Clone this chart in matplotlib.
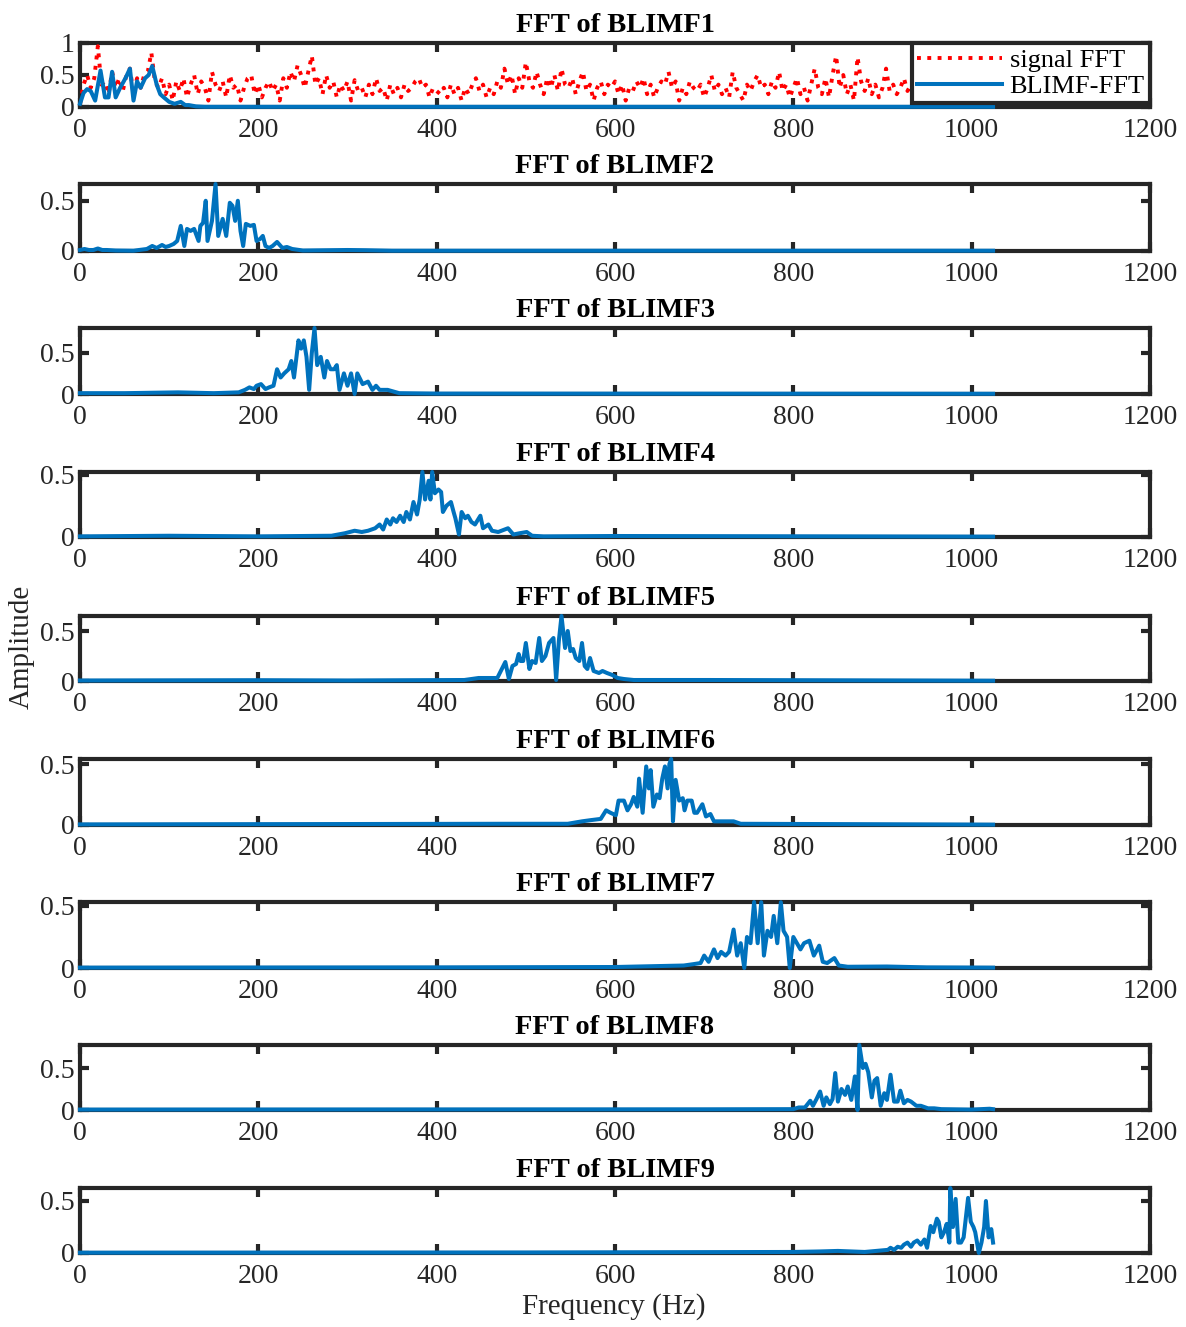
import numpy as np
import matplotlib
matplotlib.use("Agg")
import matplotlib.pyplot as plt
from matplotlib.ticker import FuncFormatter

plt.rcParams['font.family'] = ['Liberation Serif', 'DejaVu Serif']

# ---------------- data ----------------
# original signal spectrum (4 Hz spacing, starts at 0 Hz)
signal_fft = [
    0.05, 0.35, 0.5, 0.3, 0.45, 0.95, 0.35, 0.4, 0.2, 0.55, 0.3, 0.45, 0.25, 0.5, 0.6, 0.2, 0.45, 0.3, 0.5, 0.55,
    0.85, 0.4, 0.3, 0.45, 0.2, 0.35, 0.1, 0.4, 0.25, 0.45, 0.15, 0.35, 0.5, 0.2, 0.4, 0.3, 0.1, 0.55, 0.35, 0.25,
    0.4, 0.15, 0.5, 0.3, 0.35, 0.1, 0.3, 0.45, 0.5, 0.2, 0.35, 0.15, 0.3, 0.4, 0.25, 0.35, 0.1, 0.45, 0.3, 0.55,
    0.4, 0.65, 0.5, 0.3, 0.55, 0.8, 0.35, 0.45, 0.2, 0.5, 0.3, 0.4, 0.15, 0.35, 0.25, 0.4, 0.1, 0.42, 0.25, 0.3,
    0.15, 0.35, 0.2, 0.45, 0.25, 0.3, 0.1, 0.35, 0.2, 0.3, 0.15, 0.35, 0.25, 0.3, 0.4, 0.45, 0.3, 0.35, 0.15, 0.3,
    0.25, 0.2, 0.3, 0.15, 0.35, 0.2, 0.3, 0.1, 0.3, 0.2, 0.35, 0.45, 0.25, 0.35, 0.15, 0.3, 0.2, 0.4, 0.3, 0.6,
    0.35, 0.5, 0.2, 0.45, 0.3, 0.7, 0.4, 0.3, 0.55, 0.35, 0.2, 0.45, 0.3, 0.5, 0.25, 0.6, 0.35, 0.3, 0.45, 0.2,
    0.4, 0.55, 0.25, 0.35, 0.1, 0.3, 0.4, 0.2, 0.35, 0.3, 0.4, 0.2, 0.35, 0.1, 0.3, 0.25, 0.4, 0.3, 0.45, 0.2,
    0.35, 0.15, 0.3, 0.4, 0.35, 0.55, 0.3, 0.4, 0.1, 0.3, 0.2, 0.4, 0.3, 0.25, 0.35, 0.15, 0.3, 0.5, 0.25, 0.35,
    0.2, 0.3, 0.15, 0.55, 0.3, 0.2, 0.1, 0.35, 0.25, 0.4, 0.5, 0.3, 0.35, 0.2, 0.4, 0.3, 0.55, 0.25, 0.35, 0.15,
    0.3, 0.45, 0.2, 0.3, 0.1, 0.35, 0.6, 0.3, 0.2, 0.45, 0.15, 0.5, 0.8, 0.3, 0.5, 0.2, 0.35, 0.1, 0.78, 0.4,
    0.25, 0.45, 0.2, 0.35, 0.15, 0.3, 0.6, 0.25, 0.35, 0.2, 0.3, 0.45, 0.25, 0.35, 0.4, 0.2,
    0.3, 0.25, 0.35, 0.2, 0.3, 0.4, 0.25, 0.3, 0.2, 0.35, 0.25, 0.3, 0.15, 0.35, 0.3, 0.2, 0.3, 0.25, 0.35, 0.2, 0.1,
]
signal_df = 4  # Hz between signal samples

imf1_f = [0, 4, 8, 12, 17, 23, 28, 32, 36, 40, 45, 51, 56, 60, 64, 68, 73, 77, 81, 86, 90, 94, 100, 106, 113, 118, 122, 130, 140, 1024]
imf1_a = [0.05, 0.22, 0.28, 0.25, 0.1, 0.57, 0.15, 0.15, 0.55, 0.15, 0.3, 0.45, 0.6, 0.1, 0.4, 0.3, 0.45, 0.5, 0.64, 0.35, 0.2, 0.15, 0.08, 0.05, 0.08, 0.03, 0.03, 0.01, 0.003, 0.003]

imf2_f = [0, 5, 10, 15, 20, 25, 30, 40, 60, 75, 81, 86, 92, 96, 100, 105, 109, 113, 117, 120,
          124, 128, 133, 135, 138, 141, 143, 148, 152, 155, 160, 164, 168, 171, 174, 177, 180, 183, 186, 191,
          195, 198, 202, 205, 208, 212, 216, 221, 227, 232, 238, 250, 300, 320, 350, 1024]
imf2_a = [0.01, 0.02, 0.01, 0.01, 0.025, 0.01, 0.01, 0.005, 0.003, 0.02, 0.05, 0.03, 0.06, 0.04, 0.05, 0.07, 0.1, 0.25, 0.05, 0.22,
          0.2, 0.22, 0.1, 0.25, 0.28, 0.5, 0.1, 0.3, 0.667, 0.15, 0.32, 0.15, 0.48, 0.45, 0.3, 0.5, 0.2, 0.05, 0.27, 0.25,
          0.26, 0.1, 0.12, 0.15, 0.05, 0.03, 0.05, 0.09, 0.03, 0.04, 0.02, 0.005, 0.01, 0.008, 0.003, 0.003]

imf3_f = [0, 50, 110, 150, 178, 185, 190, 195, 198, 203, 208, 212, 217, 221, 225, 229, 234, 237, 240, 245,
          248, 251, 254, 257, 260, 263, 266, 270, 274, 277, 281, 285, 288, 291, 296, 300, 304, 308, 311, 317,
          323, 328, 332, 336, 345, 358, 400, 1024]
imf3_a = [0.01, 0.01, 0.02, 0.01, 0.02, 0.05, 0.08, 0.06, 0.1, 0.12, 0.06, 0.08, 0.1, 0.3, 0.2, 0.25, 0.3, 0.4, 0.2, 0.65,
          0.55, 0.65, 0.45, 0.05, 0.5, 0.8, 0.35, 0.45, 0.2, 0.4, 0.3, 0.3, 0.35, 0.05, 0.25, 0.1, 0.25, 0.0, 0.25, 0.12,
          0.15, 0.05, 0.1, 0.05, 0.05, 0.01, 0.005, 0.003]

imf4_f = [0, 100, 200, 282, 297, 308, 316, 323, 331, 336, 340, 344, 348, 351, 355, 359, 363, 366, 370, 374,
          378, 381, 384, 387, 391, 393, 395, 398, 402, 405, 407, 411, 416, 419, 421, 425, 428, 432, 435, 439,
          443, 449, 452, 458, 462, 469, 480, 486, 493, 501, 507, 520, 600, 1024]
imf4_a = [0.005, 0.01, 0.005, 0.01, 0.03, 0.05, 0.04, 0.05, 0.07, 0.1, 0.06, 0.14, 0.1, 0.15, 0.12, 0.17, 0.12, 0.2, 0.14, 0.28,
          0.18, 0.3, 0.52, 0.3, 0.45, 0.3, 0.52, 0.35, 0.38, 0.36, 0.2, 0.25, 0.28, 0.2, 0.15, 0.02, 0.2, 0.15, 0.17, 0.12,
          0.1, 0.17, 0.07, 0.1, 0.05, 0.04, 0.07, 0.02, 0.03, 0.04, 0.01, 0.005, 0.008, 0.003]

imf5_f = [0, 200, 300, 431, 447, 457, 468, 477, 481, 485, 489, 492, 494, 497, 500, 504, 507, 511, 515, 518,
          522, 526, 531, 534, 537, 540, 544, 547, 550, 553, 556, 560, 563, 566, 569, 572, 576, 582, 586, 591,
          597, 603, 610, 621, 705, 1024]
imf5_a = [0.005, 0.008, 0.005, 0.01, 0.03, 0.03, 0.03, 0.19, 0.02, 0.15, 0.17, 0.27, 0.2, 0.2, 0.38, 0.12, 0.2, 0.18, 0.43, 0.2,
          0.25, 0.38, 0.43, 0.01, 0.4, 0.65, 0.33, 0.5, 0.3, 0.32, 0.23, 0.2, 0.38, 0.15, 0.12, 0.23, 0.1, 0.08, 0.1, 0.08,
          0.06, 0.03, 0.02, 0.01, 0.01, 0.003]

imf6_f = [0, 300, 472, 547, 563, 573, 584, 590, 595, 601, 604, 610, 614, 618, 621, 625, 627, 631, 635, 638,
          640, 643, 647, 650, 653, 656, 659, 661, 663, 665, 668, 672, 676, 678, 681, 686, 689, 692, 698, 702,
          707, 711, 719, 733, 741, 1024]
imf6_a = [0.005, 0.008, 0.01, 0.01, 0.03, 0.04, 0.05, 0.12, 0.1, 0.08, 0.2, 0.2, 0.12, 0.17, 0.23, 0.15, 0.38, 0.1, 0.48, 0.3,
          0.45, 0.15, 0.25, 0.22, 0.38, 0.48, 0.3, 0.5, 0.541, 0.03, 0.37, 0.2, 0.22, 0.12, 0.2, 0.2, 0.1, 0.1, 0.17, 0.07,
          0.09, 0.03, 0.03, 0.03, 0.01, 0.003]

imf7_f = [0, 400, 600, 677, 687, 696, 700, 705, 711, 715, 719, 724, 728, 733, 737, 741, 745, 748, 752, 756,
          760, 764, 767, 771, 775, 778, 782, 786, 789, 793, 796, 800, 804, 808, 812, 818, 823, 829, 833, 838,
          846, 851, 861, 905, 950, 1024]
imf7_a = [0.003, 0.005, 0.008, 0.02, 0.03, 0.04, 0.1, 0.05, 0.15, 0.08, 0.13, 0.1, 0.13, 0.31, 0.1, 0.2, 0.0, 0.25, 0.2, 0.532,
          0.2, 0.53, 0.1, 0.3, 0.25, 0.42, 0.2, 0.53, 0.3, 0.25, 0.0, 0.25, 0.2, 0.15, 0.2, 0.22, 0.1, 0.18, 0.05, 0.04,
          0.08, 0.02, 0.01, 0.012, 0.005, 0.003]

imf8_f = [0, 700, 800, 806, 813, 819, 822, 826, 830, 834, 837, 841, 844, 847, 850, 854, 858, 861, 865, 869,
          872, 874, 878, 881, 884, 888, 891, 894, 898, 902, 905, 909, 913, 917, 920, 924, 928, 932, 938, 943,
          951, 958, 966, 1000, 1020, 1024]
imf8_a = [0.005, 0.008, 0.01, 0.03, 0.03, 0.11, 0.05, 0.13, 0.22, 0.05, 0.15, 0.07, 0.13, 0.44, 0.1, 0.25, 0.18, 0.28, 0.12, 0.4,
          0.0, 0.774, 0.5, 0.55, 0.45, 0.15, 0.35, 0.38, 0.05, 0.2, 0.12, 0.42, 0.1, 0.1, 0.23, 0.08, 0.12, 0.1, 0.05, 0.05,
          0.02, 0.02, 0.01, 0.005, 0.015, 0.01]

imf9_f = [0, 500, 800, 830, 850, 880, 906, 909, 913, 917, 921, 924, 928, 932, 935, 939, 943, 947, 950, 954,
          957, 961, 963, 966, 969, 972, 975, 976, 979, 982, 985, 988, 991, 996, 999, 1002, 1004, 1008, 1011, 1014,
          1016, 1019, 1022, 1024]
imf9_a = [0.003, 0.005, 0.01, 0.015, 0.02, 0.01, 0.03, 0.05, 0.03, 0.06, 0.05, 0.08, 0.1, 0.06, 0.1, 0.12, 0.08, 0.13, 0.05, 0.26,
          0.2, 0.33, 0.3, 0.15, 0.2, 0.28, 0.1, 0.625, 0.25, 0.52, 0.1, 0.1, 0.15, 0.53, 0.3, 0.25, 0.2, 0.0, 0.1, 0.25,
          0.5, 0.15, 0.23, 0.1]

imf_freqs = [imf1_f, imf2_f, imf3_f, imf4_f, imf5_f, imf6_f, imf7_f, imf8_f, imf9_f]
imf_amps = [imf1_a, imf2_a, imf3_a, imf4_a, imf5_a, imf6_a, imf7_a, imf8_a, imf9_a]
titles = [f"FFT of BLIMF{i}" for i in range(1, 10)]
xticks = [0, 200, 400, 600, 800, 1000, 1200]

# ---------------- figure ----------------
W, H = 1186, 1327
fig = plt.figure(figsize=(W / 100, H / 100), dpi=100)

panel_px = [(43, 107), (184, 251), (328, 394), (472, 537), (616, 681),
            (759, 825), (902, 968), (1045, 1110), (1188, 1253)]
left_px, right_px = 80, 1150
dark = '#262626'
blue = '#0072BD'

fmt = FuncFormatter(lambda v, p: f"{v:g}")

for i, (top, bot) in enumerate(panel_px):
    ax = fig.add_axes([left_px / W, 1 - bot / H, (right_px - left_px) / W, (bot - top) / H])
    if i == 0:
        sf = np.arange(len(signal_fft)) * signal_df
        ax.plot(sf, signal_fft, color='red', linestyle=':', linewidth=2.8,
                label='signal FFT', zorder=3)
    ax.plot(imf_freqs[i], imf_amps[i], color=blue, linewidth=2.9,
            label='BLIMF-FFT', zorder=4, clip_on=False, solid_joinstyle='round')
    ax.set_xlim(0, 1200)
    if i == 0:
        ax.set_ylim(0, 1)
        ax.set_yticks([0, 0.5, 1])
    else:
        ax.set_ylim(0, max(imf_amps[i]))
        ax.set_yticks([0, 0.5])
    ax.set_xticks(xticks)
    ax.yaxis.set_major_formatter(fmt)
    for s in ax.spines.values():
        s.set_linewidth(3.0)
        s.set_color(dark)
        s.set_zorder(2.5)
    ax.tick_params(direction='in', length=6.5, width=3.0, color=dark,
                   top=True, right=True, labelsize=20, labelcolor=dark)
    ax.tick_params(axis='x', pad=8)
    ax.tick_params(axis='y', pad=4)
    ax.set_title(titles[i], fontsize=20.5, fontweight='bold', pad=8)
    if i == 0:
        leg = ax.legend(loc='upper right', fontsize=19, frameon=True, fancybox=False,
                        borderaxespad=0, framealpha=1, edgecolor=dark,
                        handlelength=3.2, handletextpad=0.3, borderpad=0.2,
                        labelspacing=0.1)
        leg.get_frame().set_linewidth(3.0)
        leg.set_zorder(10)

fig.text(22 / W, 1 - 647 / H, 'Amplitude', rotation=90, ha='center', va='center',
         fontsize=21, color=dark)
fig.text(614 / W, 1 - 1307 / H, 'Frequency (Hz)', ha='center', va='center',
         fontsize=21, color=dark)

fig.savefig('out.png', dpi=100)
